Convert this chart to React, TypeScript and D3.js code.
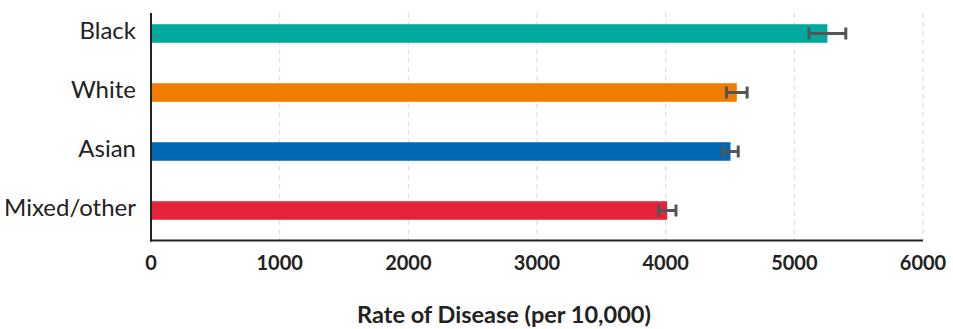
import React from "react";
import * as d3 from "d3";

const categories = ["Black", "White", "Asian", "Mixed/other"];
const rates = [5257, 4553, 4504, 4012];
const errors = [143, 80, 60, 68];
const colors = ["#00A99D", "#F07D00", "#0068B4", "#E5243B"];
const xTicks = [0, 1000, 2000, 3000, 4000, 5000, 6000];
const xTitle = "Rate of Disease (per 10,000)";

const W = 953;
const H = 329;
const font = "Lato, 'Open Sans', sans-serif";

export default function App() {
  const x = d3.scaleLinear().domain([0, 6000]).range([151, 923]);
  const y = d3.scaleBand().domain(categories).range([4, 240]).paddingInner(0.686).paddingOuter(0.343);
  const bh = y.bandwidth();
  return (
    <svg width={W} height={H} style={{ position: "absolute", left: 0, top: 0 }}>
      <rect width={W} height={H} fill="#fff" />
      {xTicks.slice(1).map((t) => (
        <line key={t} x1={x(t)} x2={x(t)} y1={13} y2={240} stroke="#d9d9d9" strokeWidth={1} strokeDasharray="5,4" />
      ))}
      {categories.map((c, i) => {
        const cy = (y(c) ?? 0) + bh / 2;
        const lo = x(rates[i] - errors[i]);
        const hi = x(rates[i] + errors[i]);
        return (
          <g key={c}>
            <rect x={x(0)} y={y(c)} width={x(rates[i]) - x(0)} height={bh} fill={colors[i]} />
            <line x1={lo} x2={hi} y1={cy} y2={cy} stroke="#555" strokeWidth={3} />
            <line x1={lo} x2={lo} y1={cy - 6} y2={cy + 6} stroke="#555" strokeWidth={3} />
            <line x1={hi} x2={hi} y1={cy - 6} y2={cy + 6} stroke="#555" strokeWidth={3} />
            <text x={136} y={cy + 5} textAnchor="end" fontFamily={font} fontSize={24} fill="#222">
              {c}
            </text>
          </g>
        );
      })}
      <line x1={151} x2={151} y1={13} y2={241.5} stroke="#222" strokeWidth={2} />
      <line x1={150} x2={923} y1={240.5} y2={240.5} stroke="#222" strokeWidth={2} />
      {xTicks.map((t) => (
        <text key={t} x={x(t)} y={270} textAnchor="middle" fontFamily={font} fontWeight="bold" fontSize={20} fill="#222">
          {t}
        </text>
      ))}
      <text x={504} y={323} textAnchor="middle" fontFamily={font} fontWeight="bold" fontSize={23.5} fill="#222">
        {xTitle}
      </text>
    </svg>
  );
}
